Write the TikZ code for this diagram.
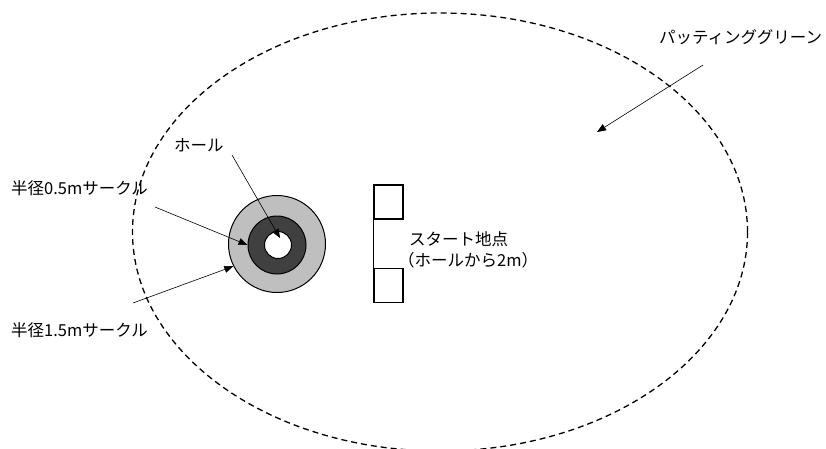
\documentclass[tikz,border=0pt]{standalone}
\usepackage{fontspec}
\setmainfont{Noto Sans CJK JP}
\usetikzlibrary{arrows.meta,positioning}

\begin{document}
\begin{tikzpicture}[
  x=1pt, y=-1pt,
  green edge/.style={dash pattern=on 6pt off 4pt, line width=1.3pt},
  ring/.style={circle, draw, line width=1pt, inner sep=0pt},
  tee box/.style={draw, line width=1.5pt, minimum width=29pt, minimum height=34pt, inner sep=0pt},
  pointer/.style={-{Triangle[length=9pt,width=7pt]}, line width=0.6pt},
  lbl/.style={font=\fontsize{16.5}{20}\selectfont, inner sep=0pt, anchor=west}
]
\useasboundingbox (0,0) rectangle (826,448);
% putting green
\draw[green edge] (440,232) ellipse (307.5 and 219);
% circles round the hole
\node[ring, fill=black!25, minimum size=97pt] (outer) at (277,244) {};
\node[ring, fill=black!75, minimum size=58pt] (inner) at (277,245) {};
\node[ring, fill=white, minimum size=27pt] (hole) at (278,245) {};
% start points
\node[tee box] (teeA) at (388.5,202) {};
\node[tee box] (teeB) at (388.5,285.5) {};
\draw[line width=1.5pt] (teeA.south west) -- (teeB.north west);
\node[lbl] (startA) at (409,239) {スタート地点};
\node[lbl] (startB) at (398,260) {（ホールから2m）};
% labels
\node[lbl] (holeLbl) at (174,145) {ホール};
\node[lbl] (smallLbl) at (11,188) {半径0.5mサークル};
\node[lbl] (bigLbl) at (11,330) {半径1.5mサークル};
\node[lbl] (greenLbl) at (659,37) {パッティンググリーン};
% arrows
\coordinate (holeTail) at (232,155);
\coordinate (holeTip) at (280,238);
\coordinate (smallTail) at (155,207);
\coordinate (bigTail) at (133,303);
\coordinate (greenTail) at (703,65);
\coordinate (greenTip) at (597,132);
\draw[pointer] (holeTail) -- (holeTip);
\draw[pointer] (smallTail) -- (inner.west);
\draw[pointer] (bigTail) -- (outer.207);
\draw[pointer] (greenTail) -- (greenTip);
\end{tikzpicture}
\end{document}
